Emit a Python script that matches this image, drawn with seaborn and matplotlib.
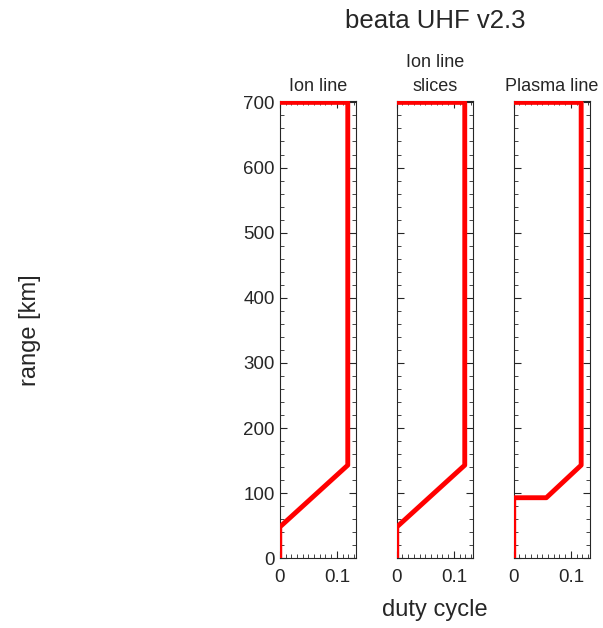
import matplotlib
matplotlib.use("Agg")
import matplotlib.pyplot as plt
import seaborn as sns
import pandas as pd
from matplotlib.ticker import MultipleLocator

# duty cycle profiles vs range
panel_titles = ["Ion line", "Ion line\nslices", "Plasma line"]
ion_duty = [0, 0, 0.119, 0.119, 0]
ion_range = [0, 48, 143, 700, 700]
slices_duty = [0, 0, 0.119, 0.119, 0]
slices_range = [0, 48, 143, 700, 700]
plasma_duty = [0, 0, 0.057, 0.118, 0.118, 0]
plasma_range = [0, 93, 93, 143, 700, 700]

profiles = [(ion_duty, ion_range), (slices_duty, slices_range), (plasma_duty, plasma_range)]

sns.set_style("ticks")
plt.rcParams.update({
    "xtick.direction": "in", "ytick.direction": "in",
    "xtick.top": True, "ytick.right": True,
    "text.color": "#262626", "axes.edgecolor": "#262626",
    "xtick.color": "#262626", "ytick.color": "#262626",
})
plt.rcParams["font.family"] = ["Liberation Sans", "DejaVu Sans"]

fig = plt.figure(figsize=(6.03, 6.28), dpi=100)
lefts = [0.464, 0.658, 0.852]
for i, (duty, rng) in enumerate(profiles):
    ax = fig.add_axes([lefts[i], 0.111, 0.126, 0.728])
    df = pd.DataFrame({"duty": duty, "range": rng})
    sns.lineplot(data=df, x="duty", y="range", sort=False, estimator=None,
                 color="red", linewidth=3.5, ax=ax)
    for ln in ax.lines:
        ln.set_zorder(3)
    ax.set_xlim(0, 0.133)
    ax.set_ylim(0, 702)
    ax.xaxis.set_major_locator(MultipleLocator(0.1))
    ax.xaxis.set_minor_locator(MultipleLocator(0.01))
    ax.yaxis.set_major_locator(MultipleLocator(100))
    ax.yaxis.set_minor_locator(MultipleLocator(20))
    ax.xaxis.set_major_formatter(plt.FuncFormatter(lambda v, p: "0" if v == 0 else f"{v:g}"))
    ax.tick_params(which="major", length=5, labelsize=13.5)
    ax.tick_params(axis="x", which="major", pad=8)
    ax.tick_params(which="minor", length=3, top=True, right=True)
    ax.set_xlabel("")
    ax.set_ylabel("")
    if i > 0:
        ax.set_yticklabels([])
    ax.set_title(panel_titles[i], fontsize=13, pad=7, linespacing=1.55)

fig.text(0.721, 0.967, "beata UHF v2.3", ha="center", va="center", fontsize=18.5)
fig.text(0.721, 0.028, "duty cycle", ha="center", va="center", fontsize=17)
fig.text(0.05, 0.475, "range [km]", ha="center", va="center", rotation=90, fontsize=17)

fig.savefig("out.png", dpi=100)
